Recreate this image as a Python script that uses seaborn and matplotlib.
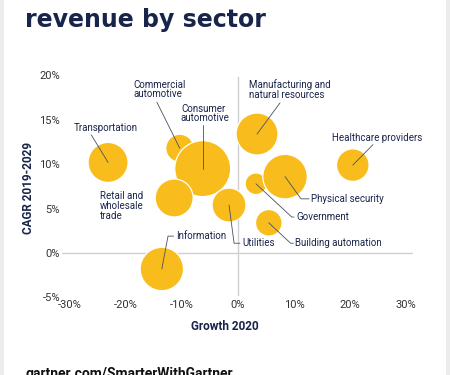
import matplotlib
matplotlib.use("Agg")
import matplotlib.pyplot as plt
from matplotlib.patches import Rectangle
import seaborn as sns
import pandas as pd

# datos
sectors = ["Transportation", "Commercial automotive", "Consumer automotive",
           "Retail and wholesale trade", "Information", "Utilities",
           "Manufacturing and natural resources", "Healthcare providers",
           "Government", "Physical security", "Building automation"]
growth_2020 = [-23.2, -10.4, -6.3, -11.4, -13.6, -1.6, 3.4, 20.5, 3.2, 8.4, 5.5]
cagr_2019_2029 = [10.2, 11.8, 9.5, 6.2, -1.8, 5.4, 13.4, 9.9, 7.8, 8.6, 3.4]
bubble_size = [400, 196, 784, 361, 471, 289, 441, 266, 117, 497, 177]

x_ticks = [-30, -20, -10, 0, 10, 20, 30]
y_ticks = [-5, 0, 5, 10, 15, 20]

df = pd.DataFrame({"sector": sectors, "growth": growth_2020,
                   "cagr": cagr_2019_2029, "size": bubble_size})

# posiciones de etiquetas (texto, x, y) y codos de las lineas guia
labels = {
    "Transportation": ("Transportation", -29.3, 14.1, [(-26.2, 13.3)]),
    "Commercial automotive": ("Commercial\nautomotive", -18.75, 18.4, [(-14.5, 17.0)]),
    "Consumer automotive": ("Consumer\nautomotive", -10.2, 15.7, [(-6.3, 14.4)]),
    "Retail and wholesale trade": ("Retail and\nwholesale\ntrade", -24.6, 5.3, []),
    "Information": ("Information", -11.1, 1.9, [(-11.5, 1.9), (-12.5, 1.9)]),
    "Utilities": ("Utilities", 0.7, 1.1, [(0.35, 1.1), (-0.7, 1.1)]),
    "Manufacturing and natural resources": ("Manufacturing and\nnatural resources", 2.0, 18.4, [(7.5, 16.9)]),
    "Healthcare providers": ("Healthcare providers", 16.8, 13.0, [(24.1, 12.2)]),
    "Government": ("Government", 10.4, 4.05, [(10.0, 4.05), (9.6, 4.05)]),
    "Physical security": ("Physical security", 13.0, 6.1, [(12.7, 6.1), (11.25, 6.1)]),
    "Building automation": ("Building automation", 10.2, 1.1, [(9.9, 1.1), (9.4, 1.1)]),
}

navy = "#18244a"
yellow = "#f8bd1c"

sns.set_style("white")
plt.rcParams["font.family"] = ["Roboto", "DejaVu Sans"]

fig = plt.figure(figsize=(4.5, 3.75), dpi=100)
ax = fig.add_axes([0.1369, 0.2069, 0.784, 0.592])

k = 2.07
sns.scatterplot(data=df, x="growth", y="cagr", size="size",
                sizes=(k * min(bubble_size), k * max(bubble_size)),
                size_norm=(min(bubble_size), max(bubble_size)),
                color=yellow, edgecolor="white", linewidth=0.9,
                alpha=1, legend=False, ax=ax, zorder=3)

ax.axhline(0, xmin=0, xmax=0.993, color="#cfcfcf", lw=1, zorder=1)
ax.axvline(0, ymin=0.01, ymax=0.992, color="#cfcfcf", lw=1, zorder=1)

for _, row in df.iterrows():
    txt, tx, ty, pts = labels[row["sector"]]
    ax.text(tx, ty, txt, ha="left", va="center", fontsize=7, color=navy,
            linespacing=0.95, zorder=5)
    if pts:
        xs = [p[0] for p in pts] + [row["growth"]]
        ys = [p[1] for p in pts] + [row["cagr"]]
        ax.plot(xs, ys, color="#4a4f5e", lw=0.6, zorder=4)

ax.set_xlim(-31.5, 31.5)
ax.set_ylim(-5, 20)
ax.set_xticks(x_ticks)
ax.set_yticks(y_ticks)
ax.set_xticklabels([f"{t}%" for t in x_ticks])
ax.set_yticklabels([f"{t}%" for t in y_ticks])
ax.tick_params(axis="both", length=0, labelsize=8, colors="#333333")
ax.tick_params(axis="x", pad=2)
ax.tick_params(axis="y", pad=1)
ax.set_xlabel("")
ax.set_ylabel("")
sns.despine(ax=ax, left=True, bottom=True)

fig.text(225 / 450, 1 - 327 / 375, "Growth 2020", ha="center", va="center",
         fontsize=8.5, fontweight="bold", color=navy)
fig.text(29 / 450, 1 - 188 / 375, "CAGR 2019-2029", ha="center", va="center",
         rotation=90, fontsize=8.5, fontweight="bold", color=navy)

fig.text(25 / 450, 1 - 27 / 375, "revenue by sector", ha="left", va="baseline",
         fontsize=17, fontweight="bold", color=navy, family="DejaVu Sans")
fig.text(25 / 450, 1 - 367 / 375, "gartner.com/SmarterWithGartner", ha="left",
         va="top", fontsize=10, fontweight="bold", color="#111111")

# bordes grises
fig.add_artist(Rectangle((0, 0), 4 / 450, 1, transform=fig.transFigure,
                         color="#ececec", lw=0))
fig.add_artist(Rectangle((446 / 450, 0), 4 / 450, 1, transform=fig.transFigure,
                         color="#ececec", lw=0))

fig.savefig("out.png", dpi=100)
